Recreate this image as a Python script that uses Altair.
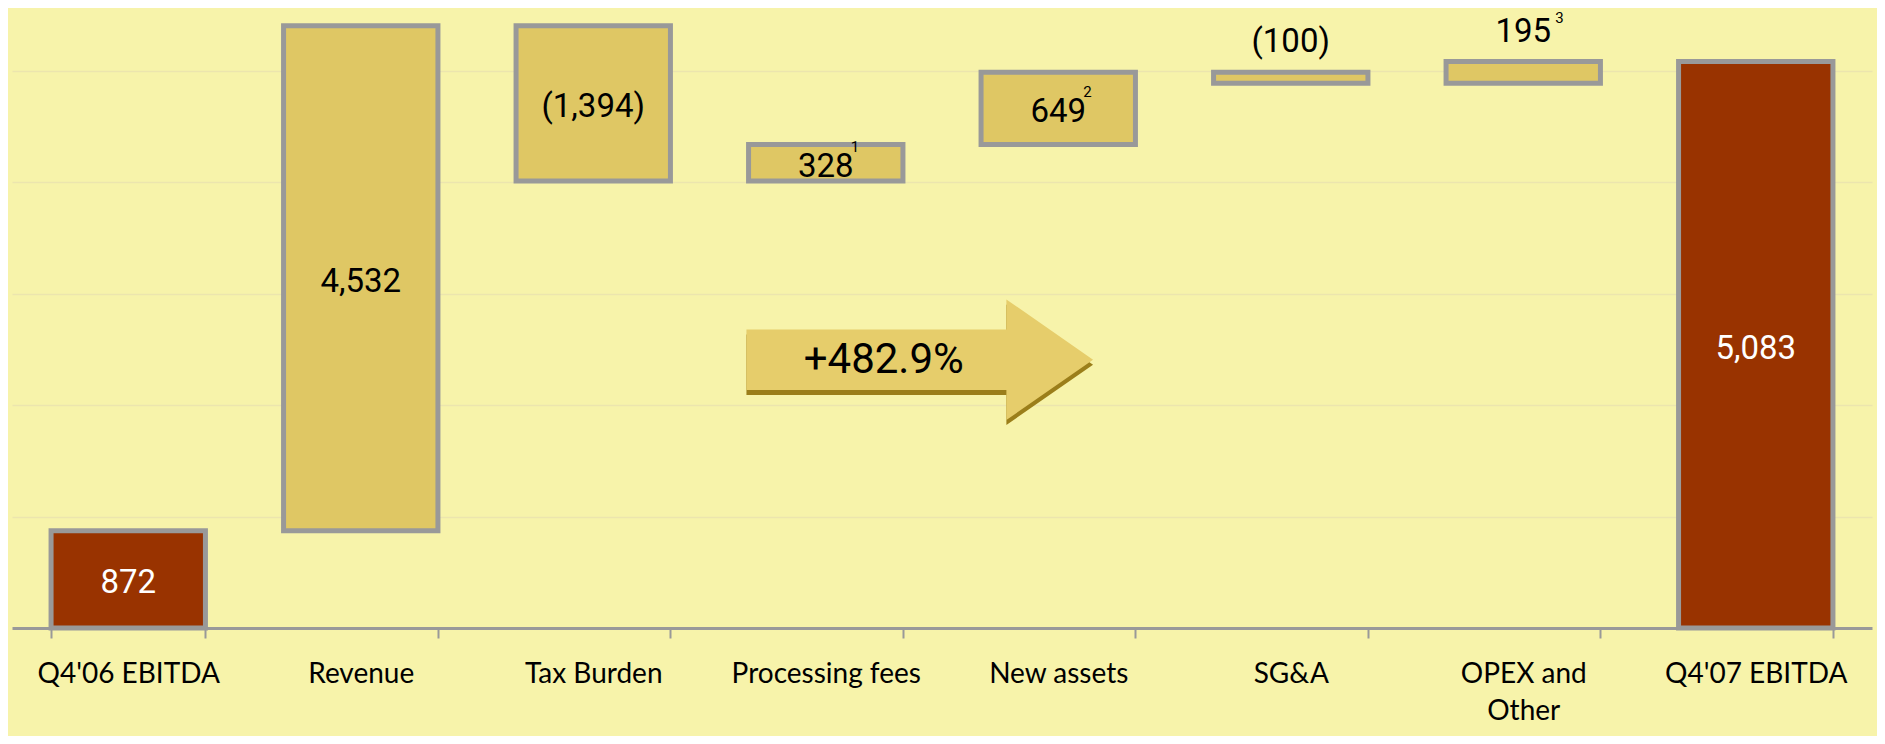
import altair as alt
import pandas as pd

# ---- data ----
categories = ["Q4'06 EBITDA", "Revenue", "Tax Burden", "Processing fees",
              "New assets", "SG&A", "OPEX and Other", "Q4'07 EBITDA"]
values = [872, 4532, -1394, 328, 649, -100, 195, 5083]
kinds = ["total", "delta", "delta", "delta", "delta", "delta", "delta", "total"]
value_labels = ["872", "4,532", "(1,394)", "328", "649", "(100)", "195", "5,083"]
footnotes = ["", "", "", "1", "2", "", "3", ""]

growth_label = ["+482.9%"]
growth_anchor = ["Processing fees"]
growth_level = [2407]

gridline_values = [1000, 2000, 3000, 4000, 5000]

# ---- waterfall table ----
starts, ends = [], []
running = 0
for v, k in zip(values, kinds):
    if k == "total":
        s, e = 0, v
    else:
        s, e = running, running + v
    running = e
    starts.append(s)
    ends.append(e)

df = pd.DataFrame({
    "category": categories,
    "value": values,
    "kind": kinds,
    "label": value_labels,
    "note": footnotes,
    "start": starts,
    "end": ends,
})
df["lo"] = df[["start", "end"]].min(axis=1)
df["hi"] = df[["start", "end"]].max(axis=1)
df["mid"] = (df["start"] + df["end"]) / 2
df["inside"] = df["value"].abs() >= 300

arrow_df = pd.DataFrame({"category": growth_anchor, "level": growth_level,
                         "text": growth_label})

BG = "#F7F3AA"
GOLD = "#DFC764"
RED = "#993300"
GREY = "#999999"
ARROW = "#E6CD6B"
SHADOW = "#9B7E1A"

x_enc = alt.X("category:N", sort=categories, title=None,
              scale=alt.Scale(paddingInner=0.336, paddingOuter=0.168),
              axis=alt.Axis(
                  labelAngle=0, labelFont="Lato", labelFontSize=28,
                  labelColor="#000000", labelPadding=22, labelLimit=400,
                  labelLineHeight=37,
                  labelExpr="datum.label == 'OPEX and Other' ? ['OPEX and', 'Other'] : datum.label",
                  tickBand="extent", tickSize=10, tickColor=GREY, tickWidth=2,
                  domainColor=GREY, domainWidth=3, grid=False))

y_scale = alt.Scale(domain=[0, 5500], nice=False, zero=True)

base = alt.Chart(df)

bars = base.mark_bar(stroke=GREY, strokeWidth=5).encode(
    x=x_enc,
    y=alt.Y("lo:Q", scale=y_scale, title=None,
            axis=alt.Axis(grid=True, values=gridline_values, labels=False,
                          ticks=False, domain=False, gridColor="#ECE5AE",
                          gridWidth=1.5)),
    y2="hi:Q",
    color=alt.Color("kind:N", scale=alt.Scale(domain=["total", "delta"],
                                              range=[RED, GOLD]), legend=None),
)

label_color = alt.condition(alt.datum.kind == "total",
                            alt.value("#FFFFFF"), alt.value("#000000"))

inside_labels = base.transform_filter(alt.datum.inside).mark_text(
    font="Roboto", fontSize=33, baseline="middle", align="center", dy=4
).encode(
    x=alt.X("category:N", sort=categories),
    y=alt.Y("mid:Q", scale=y_scale),
    text="label:N",
    color=label_color,
)

above_labels = base.transform_filter("!datum.inside").mark_text(
    font="Roboto", fontSize=33, baseline="middle", align="center", dy=-30
).encode(
    x=alt.X("category:N", sort=categories),
    y=alt.Y("hi:Q", scale=y_scale),
    text="label:N",
    color=label_color,
)

notes_inside = base.transform_filter(
    "datum.inside && datum.note != ''"
).mark_text(font="Roboto", fontSize=15, baseline="middle", align="left",
            dx=25, dy=-16, color="#000000").encode(
    x=alt.X("category:N", sort=categories),
    y=alt.Y("mid:Q", scale=y_scale),
    text="note:N",
)

notes_above = base.transform_filter(
    "!datum.inside && datum.note != ''"
).mark_text(font="Roboto", fontSize=15, baseline="middle", align="left",
            dx=32, dy=-44, color="#000000").encode(
    x=alt.X("category:N", sort=categories),
    y=alt.Y("hi:Q", scale=y_scale),
    text="note:N",
)

ARROW_PATH = ("M-1,-0.175L0.5,-0.175L0.5,-0.348L1,0L0.5,0.348L0.5,0.175"
              "L-1,0.175Z")
ARROW_SIZE = 346.6 ** 2

arrow_base = alt.Chart(arrow_df)

arrow_shadow = arrow_base.mark_point(
    shape=ARROW_PATH, size=ARROW_SIZE, filled=True, opacity=1,
    color=SHADOW, strokeWidth=0, xOffset=94, yOffset=5
).encode(
    x=alt.X("category:N", sort=categories),
    y=alt.Y("level:Q", scale=y_scale),
)

arrow = arrow_base.mark_point(
    shape=ARROW_PATH, size=ARROW_SIZE, filled=True, opacity=1,
    color=ARROW, strokeWidth=0, xOffset=94
).encode(
    x=alt.X("category:N", sort=categories),
    y=alt.Y("level:Q", scale=y_scale),
)

arrow_text = arrow_base.mark_text(
    font="Roboto", fontSize=42, baseline="middle", align="center",
    color="#000000", dx=58
).encode(
    x=alt.X("category:N", sort=categories),
    y=alt.Y("level:Q", scale=y_scale),
    text="text:N",
)

chart = alt.layer(
    bars, inside_labels, above_labels, notes_inside, notes_above,
    arrow_shadow, arrow, arrow_text
).properties(
    width=1860, height=613,
    padding={"left": 4, "top": 7, "right": 5, "bottom": 108},
    autosize=alt.AutoSizeParams(type="none"),
).configure(
    background=BG
).configure_view(
    stroke=None
)

chart.save("out.html", embed_options={"renderer": "svg", "actions": False})
